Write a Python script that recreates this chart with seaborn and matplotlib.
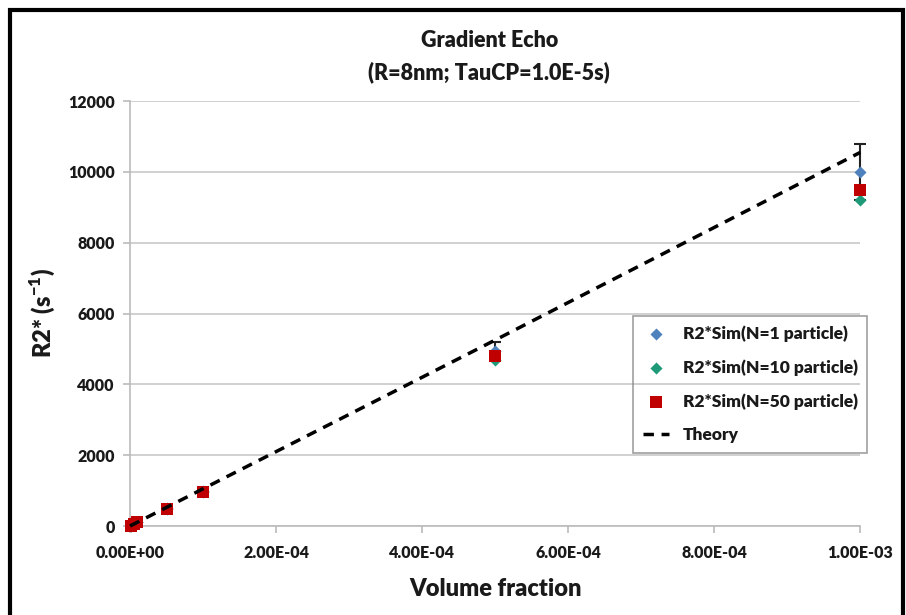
import numpy as np
import pandas as pd
import matplotlib
matplotlib.use("Agg")
import matplotlib.pyplot as plt
import seaborn as sns
from matplotlib.ticker import FuncFormatter

# ---- data ----
volume_fraction = [1e-6, 5e-6, 1e-5, 5e-5, 1e-4, 5e-4, 1e-3]
r2_n1 = [10, 52, 105, 500, 980, 4950, 10000]
r2_n1_err = [0, 0, 0, 0, 0, 250, 800]
r2_n10 = [10, 50, 100, 480, 950, 4700, 9200]
r2_n50 = [10, 51, 102, 490, 960, 4800, 9500]
theory_x = [0.0, 1e-6, 5e-6, 1e-5, 5e-5, 1e-4, 5e-4, 1e-3]
theory_y = [0.0, 10.5, 52.5, 105, 525, 1050, 5250, 10550]

labels = ["R2*Sim(N=1 particle)", "R2*Sim(N=10 particle)", "R2*Sim(N=50 particle)"]

sns.set_theme(style="white")
plt.rcParams['font.family'] = ['Lato', 'DejaVu Sans']
plt.rcParams['mathtext.fontset'] = 'custom'
plt.rcParams['mathtext.rm'] = 'Lato:heavy'
plt.rcParams['mathtext.bf'] = 'Lato:heavy'
W = "heavy"
TC = "#1a1a1a"

fig = plt.figure(figsize=(9.06, 6.15), dpi=100)
ax = fig.add_axes([0.1435, 0.1447, 0.806, 0.691])

df = pd.DataFrame({
    "vf": volume_fraction * 3,
    "r2": r2_n1 + r2_n10 + r2_n50,
    "series": [labels[0]] * 7 + [labels[1]] * 7 + [labels[2]] * 7,
})
theory = pd.DataFrame({"vf": theory_x, "r2": theory_y})

# error bars for N=1
eb = ax.errorbar(volume_fraction, r2_n1, yerr=r2_n1_err, fmt="none", ecolor="#222222",
                 elinewidth=1.5, capsize=4, capthick=1.5, zorder=2)
for art in eb.lines[1] + eb.lines[2]:
    art.set_clip_on(False)

palette = {labels[0]: "#4F81BD", labels[1]: "#1E9A78", labels[2]: "#C00000"}
markers = {labels[0]: "D", labels[1]: "D", labels[2]: "s"}
sizes = {labels[0]: 38, labels[1]: 38, labels[2]: 70}
for lab in labels:
    sub = df[df.series == lab]
    sns.scatterplot(data=sub, x="vf", y="r2", ax=ax, color=palette[lab], marker=markers[lab],
                    s=sizes[lab], linewidth=0, label=lab, zorder=3, clip_on=False)

sns.lineplot(data=theory, x="vf", y="r2", ax=ax, color="black", linewidth=2.5,
             label="Theory", zorder=4)
ax.lines[-1].set_linestyle((0, (3, 2.2)))
ax.lines[-1].set_clip_on(False)

ax.set_xlim(0, 1e-3)
ax.set_ylim(0, 12000)
ax.set_xticks([0, 2e-4, 4e-4, 6e-4, 8e-4, 1e-3])
ax.set_yticks(range(0, 12001, 2000))
ax.xaxis.set_major_formatter(FuncFormatter(lambda v, p: ("%.2E" % v)))
ax.yaxis.set_major_formatter(FuncFormatter(lambda v, p: "%d" % v))
ax.grid(axis="y", color="#C8C8C8", linewidth=1.2)
for s in ["top", "right"]:
    ax.spines[s].set_visible(False)
for s in ["left", "bottom"]:
    ax.spines[s].set_color("#BBBBBB")
    ax.spines[s].set_linewidth(1.2)
ax.tick_params(axis="both", which="major", length=5, width=1.2, color="#BBBBBB",
               direction="out", labelsize=11.5, pad=6, bottom=True, left=True)
ax.tick_params(axis="x", pad=9)
for t in ax.get_xticklabels() + ax.get_yticklabels():
    t.set_fontweight(W)
    t.set_color(TC)

ax.set_xlabel("Volume fraction", fontsize=17, fontweight=W, labelpad=12, color=TC)
ax.set_ylabel("R2* (s$^{\\mathbf{-1}}$)", fontsize=17, fontweight=W, labelpad=8, color=TC)
fig.text(0.54, 0.934, "Gradient Echo", ha="center", va="center", fontsize=15.5, fontweight=W, color=TC)
fig.text(0.54, 0.883, "(R=8nm; TauCP=1.0E-5s)", ha="center", va="center", fontsize=15.5, fontweight=W, color=TC)

leg = ax.legend(loc="upper left", bbox_to_anchor=(0.677, 0.515), frameon=True, fontsize=12.5,
                handlelength=1.5, labelspacing=1.0, borderpad=0.55, handletextpad=0.8)
leg.get_frame().set_facecolor("none")
leg.get_frame().set_edgecolor("#888888")
leg.get_frame().set_linewidth(1.2)
leg.get_frame().set_boxstyle("square", pad=0)
for t in leg.get_texts():
    t.set_fontweight(W)
    t.set_color(TC)

# outer border
border = plt.Rectangle((10 / 906, -0.05), 893 / 906, 1 - 10 / 615 + 0.05, transform=fig.transFigure,
                       fill=False, edgecolor="black", linewidth=3)
fig.patches.append(border)

fig.savefig("out.png", dpi=100)
